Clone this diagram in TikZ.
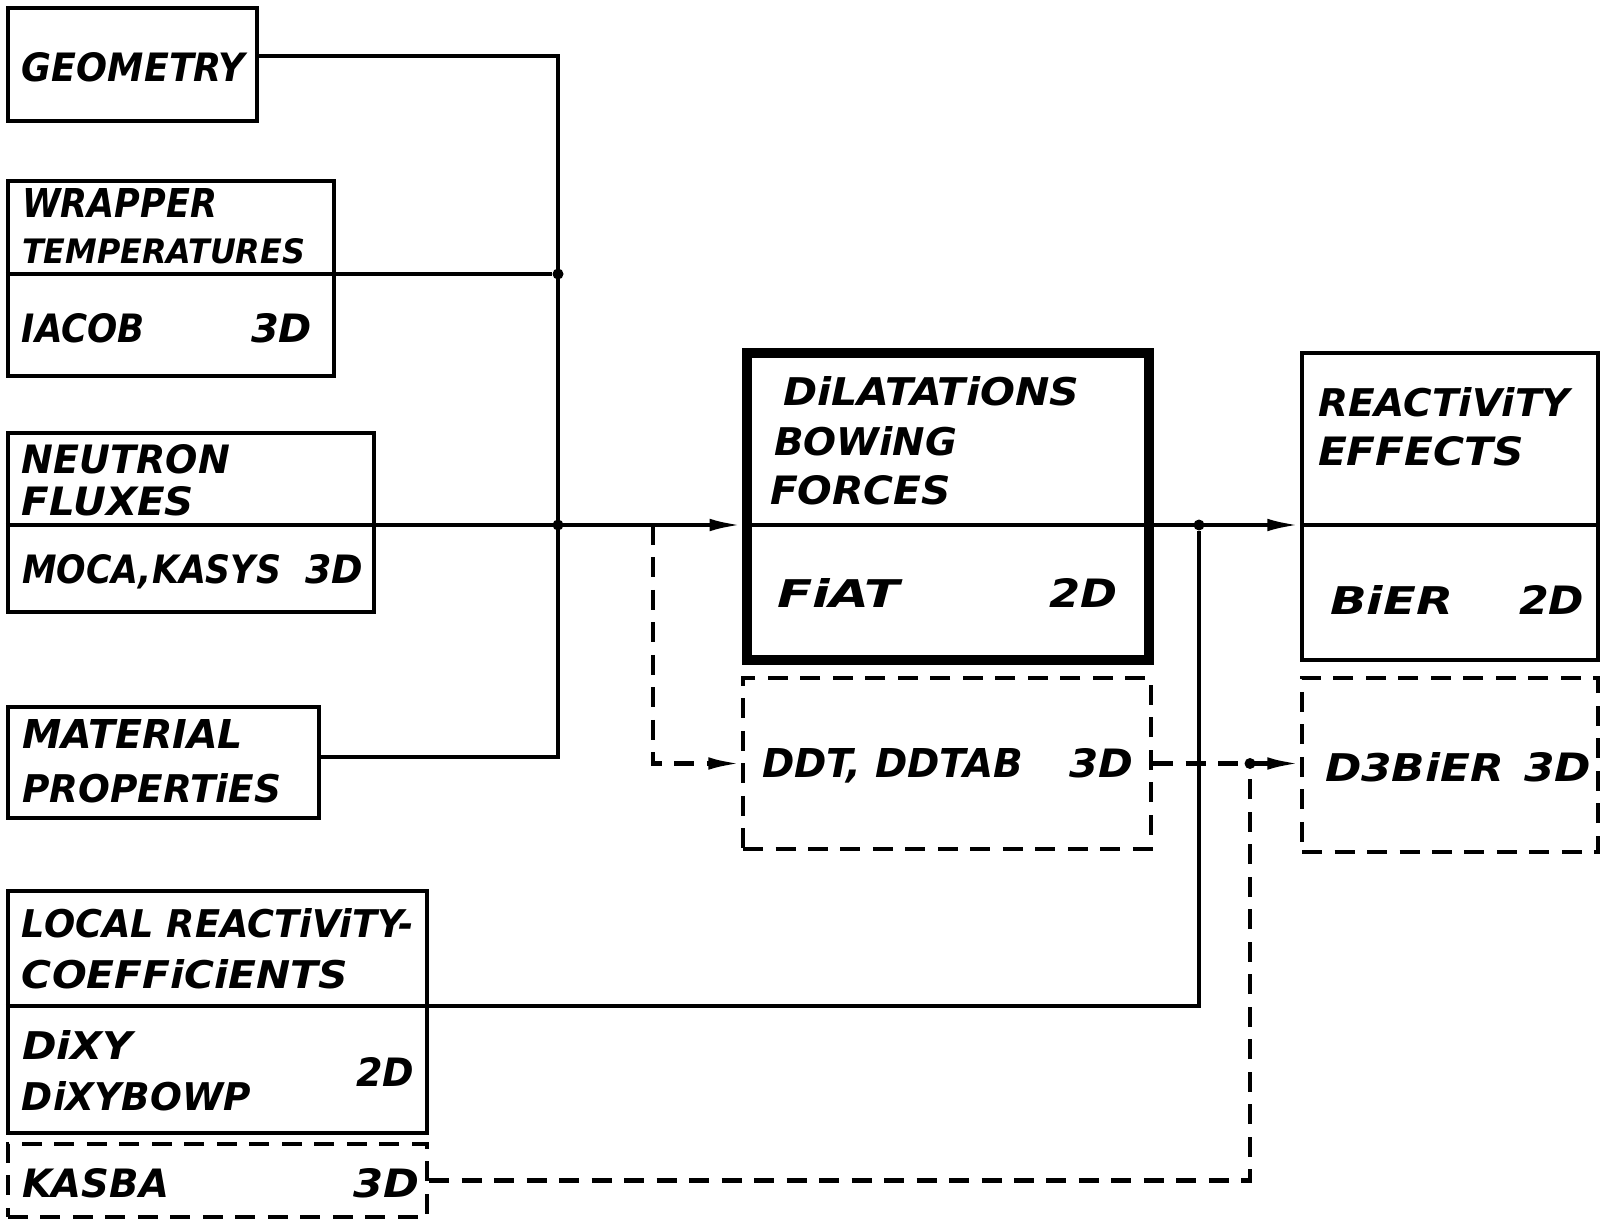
\documentclass[tikz,border=0pt]{standalone}
\usepackage{graphicx}
\usepackage{fontspec}
\setmainfont{DejaVu Sans}
\usetikzlibrary{arrows.meta,fit}
\newdimen\upx \upx=0.02cm
\newcommand\lbl[6][29]{\node[lab] (#2) at (#3,#4) {\resizebox{#5\upx}{#1\upx}{\bfseries\itshape #6}};}
\begin{document}
\begin{tikzpicture}[x=0.02cm,y=-0.02cm,
 box/.style={draw, line width=2.4pt, inner sep=0pt},
 dbox/.style={draw, line width=2.4pt, inner sep=0pt, dash pattern=on 0.4cm off 0.25cm},
 tbox/.style={draw, line width=5.5pt, inner sep=0pt},
 conn/.style={line width=2.4pt},
 dconn/.style={line width=2.4pt, dash pattern=on 0.4cm off 0.25cm},
 arr/.style={-{Latex[length=0.65cm,width=0.25cm]}},
 jdot/.style={circle, fill, inner sep=0pt, minimum size=0.22cm},
 lab/.style={anchor=base west, inner sep=0pt, outer sep=0pt},
 divline/.style={line width=2.4pt}]
\useasboundingbox (0,0) rectangle (1604,1222);

% boxes
\node[box, fit={(8,8) (257,121)}] (geo) {};
\node[box, fit={(8,181) (334,376)}] (wrap) {};
\node[box, fit={(8,433) (374,612)}] (neu) {};
\node[box, fit={(8,707) (319,818)}] (mat) {};
\node[box, fit={(8,891) (427,1133)}] (loc) {};
\node[dbox, fit={(8,1144) (427,1217)}] (kas) {};
\node[tbox, fit={(747,353) (1149,660)}] (fiat) {};
\node[dbox, fit={(743,678) (1151,849)}] (ddt) {};
\node[box, fit={(1302,353) (1598,660)}] (react) {};
\node[dbox, fit={(1302,678) (1598,852)}] (d3) {};

% junctions and helper coordinates
\node[jdot] (j1) at (558,274) {};
\node[jdot] (j2) at (558,525) {};
\node[jdot] (j3) at (1199,525) {};
\node[jdot] (j4) at (1250,763.5) {};
\coordinate (bt) at (558,56);
\coordinate (bb) at (558,757);
\coordinate (br) at (653,525);
\coordinate (lc) at (1199,1006);

% dividers
\draw[divline] (wrap.west |- j1) -- (wrap.east |- j1);
\draw[divline] (neu.west |- j2) -- (neu.east |- j2);
\draw[divline] (loc.west |- lc) -- (loc.east |- lc);
\draw[divline] (fiat.west |- j2) -- (fiat.east |- j2);
\draw[divline] (react.west |- j2) -- (react.east |- j2);

% connectors
\draw[conn] (geo.east |- bt) -- (bt) -- (bb) -- (mat.east |- bb);
\draw[conn] (wrap.east |- j1) -- (j1);
\draw[conn, arr] (neu.east |- j2) -- (fiat.west |- j2);
\draw[dconn, arr] (br) |- (ddt.west);
\draw[conn, arr] (fiat.east |- j3) -- (react.west |- j3);
\draw[conn] (loc.east |- lc) -- (lc) -- (j3);
\draw[dconn, arr] (ddt.east) -- (d3.west |- ddt.east);
\draw[dconn] (kas.east) -| (j4);

% labels
\lbl{geoT}{22}{82}{223}{GEOMETRY}
\lbl{wr1}{22}{218}{195}{WRAPPER}
\lbl[25]{wr2}{22}{264}{283}{TEMPERATURES}
\lbl{wr3}{22}{343}{123}{IACOB}
\lbl{wr4}{251}{343}{61}{3D}
\lbl{ne1}{22}{473}{208}{NEUTRON}
\lbl{ne2}{22}{515}{172}{FLUXES}
\lbl{ne3}{22}{583}{259}{MOCA,KASYS}
\lbl{ne4}{305}{583}{58}{3D}
\lbl{ma1}{22}{748}{221}{MATERIAL}
\lbl{ma2}{22}{802}{259}{PROPERTiES}
\lbl{lo1}{22}{937}{392}{LOCAL REACTiViTY-}
\lbl{lo2}{22}{988}{326}{COEFFiCiENTS}
\lbl{lo3}{22}{1059}{111}{DiXY}
\lbl{lo4}{22}{1110}{229}{DiXYBOWP}
\lbl{lo5}{356}{1086}{58}{2D}
\lbl{ka1}{22}{1197}{147}{KASBA}
\lbl{ka2}{353}{1197}{66}{3D}
\lbl{fi1}{783}{406}{296}{DiLATATiONS}
\lbl{fi2}{774}{456}{183}{BOWiNG}
\lbl{fi3}{770}{504}{181}{FORCES}
\lbl{fi4}{777}{607}{123}{FiAT}
\lbl{fi5}{1049}{607}{68}{2D}
\lbl{dd1}{762}{777}{261}{DDT, DDTAB}
\lbl{dd2}{1069}{777}{64}{3D}
\lbl{re1}{1318}{417}{252}{REACTiViTY}
\lbl{re2}{1318}{465}{206}{EFFECTS}
\lbl{re3}{1330}{614}{123}{BiER}
\lbl{re4}{1519}{614}{65}{2D}
\lbl{d31}{1325}{781}{179}{D3BiER}
\lbl{d32}{1524}{781}{67}{3D}
\end{tikzpicture}
\end{document}
